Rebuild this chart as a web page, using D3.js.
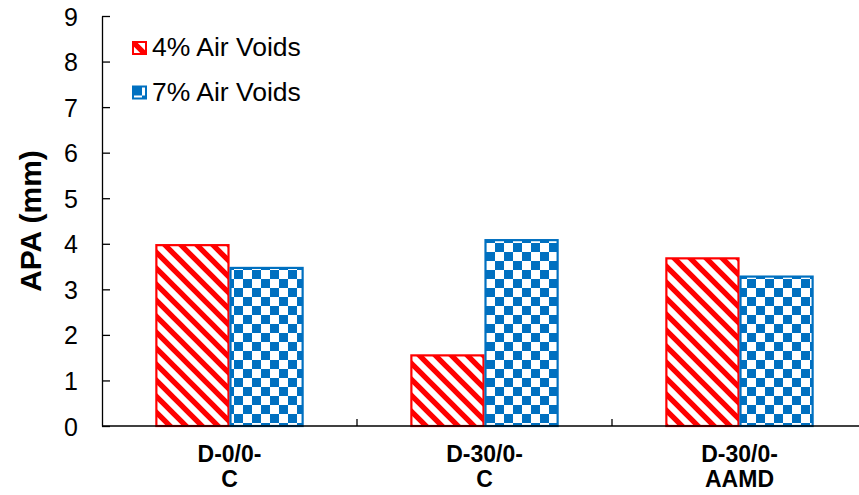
<!DOCTYPE html>
<html>
<head>
<meta charset="utf-8">
<script src="https://cdn.jsdelivr.net/npm/d3@7"></script>
<style>
body { margin: 0; background: #fff; }
text { font-family: Arial, "Liberation Sans", sans-serif; }
</style>
</head>
<body>
<svg width="859" height="495"></svg>
<script>
const categories = [["D-0/0-", "C"], ["D-30/0-", "C"], ["D-30/0-", "AAMD"]];
const seriesNames = ["4% Air Voids", "7% Air Voids"];
const voids4 = [3.97, 1.55, 3.68];
const voids7 = [3.47, 4.08, 3.28];
const yTicks = [0, 1, 2, 3, 4, 5, 6, 7, 8, 9];

const margin = { top: 16, left: 102, bottom: 69 };
const height = 495 - margin.top - margin.bottom;
const bandWidth = 255;

let svg = d3.select('svg');

// patterns
let defs = svg.append('defs');
let stripe = defs.append('pattern')
	.attr('id', 'stripes')
	.attr('patternUnits', 'userSpaceOnUse')
	.attr('width', 16).attr('height', 16);
stripe.append('rect').attr('width', 16).attr('height', 16).attr('fill', '#fff');
stripe.append('path')
	.attr('d', 'M-2,-2 L18,18 M-10,6 L10,26 M6,-10 L26,10')
	.attr('stroke', '#ff0000')
	.attr('stroke-width', 5.4);

let checker = defs.append('pattern')
	.attr('id', 'checker')
	.attr('patternUnits', 'userSpaceOnUse')
	.attr('width', 18).attr('height', 18);
checker.append('rect').attr('width', 18).attr('height', 18).attr('fill', '#fff');
checker.append('rect').attr('width', 9).attr('height', 9).attr('fill', '#0070c0');
checker.append('rect').attr('x', 9).attr('y', 9).attr('width', 9).attr('height', 9).attr('fill', '#0070c0');

const x = d3.scaleBand()
	.domain(d3.range(categories.length))
	.range([margin.left, margin.left + bandWidth * categories.length]);

const xSub = d3.scaleBand()
	.domain([0, 1])
	.range([0, bandWidth])
	.paddingOuter(0.72)
	.paddingInner(0);

const y = d3.scaleLinear()
	.domain([0, 9])
	.range([margin.top + height, margin.top]);

const fills = ['url(#stripes)', 'url(#checker)'];
const strokes = ['#ff0000', '#0070c0'];
const series = [voids4, voids7];

// bars
series.forEach(function(vals, s){
	svg.append('g').selectAll('rect')
		.data(vals)
		.enter()
		.append('rect')
		.attr('x', (d, i) => x(i) + xSub(s) + 1)
		.attr('width', xSub.bandwidth() - 2)
		.attr('y', d => y(d))
		.attr('height', d => y(0) - y(d))
		.attr('fill', fills[s])
		.attr('stroke', strokes[s])
		.attr('stroke-width', 2.2);
});

// y axis
let yAxis = svg.append('g')
	.attr('transform', 'translate(' + margin.left + ',0)')
	.call(d3.axisLeft(y).tickValues(yTicks).tickSizeInner(-8).tickSizeOuter(0).tickPadding(24));
yAxis.select('.domain').attr('stroke', '#000').attr('stroke-width', 1.3);
yAxis.selectAll('.tick line').attr('stroke', '#000').attr('stroke-width', 1.3);
yAxis.selectAll('text').attr('font-size', 25).attr('fill', '#000')
	.attr('dy', '0.36em')
	.attr('font-family', 'Arial, "Liberation Sans", sans-serif');

// x axis
let xAxis = svg.append('g')
	.attr('transform', 'translate(0,' + y(0) + ')');
xAxis.append('line')
	.attr('x1', margin.left).attr('x2', 859)
	.attr('stroke', '#000').attr('stroke-width', 1.3);
xAxis.selectAll('.sep')
	.data(d3.range(1, categories.length))
	.enter()
	.append('line')
	.attr('x1', d => x(d)).attr('x2', d => x(d))
	.attr('y1', 0).attr('y2', -7)
	.attr('stroke', '#000').attr('stroke-width', 1.3);

let labels = xAxis.selectAll('.cat')
	.data(categories)
	.enter()
	.append('text')
	.attr('text-anchor', 'middle')
	.attr('font-size', 23)
	.attr('font-weight', 'bold')
	.attr('transform', (d, i) => 'translate(' + (x(i) + bandWidth / 2) + ',0)');
labels.selectAll('tspan')
	.data(d => d)
	.enter()
	.append('tspan')
	.attr('x', 0)
	.attr('y', (d, i) => 36 + i * 25)
	.text(d => d);

// y title
svg.append('text')
	.attr('transform', 'translate(41,' + (margin.top + height / 2) + ') rotate(-90)')
	.attr('text-anchor', 'middle')
	.attr('font-size', 30)
	.attr('font-weight', 'bold')
	.text('APA (mm)');

// legend
let legend = svg.append('g').selectAll('g')
	.data(seriesNames)
	.enter()
	.append('g')
	.attr('transform', (d, i) => 'translate(133,' + (42 + i * 44.5) + ')');
legend.append('rect')
	.attr('width', 13).attr('height', 12)
	.attr('fill', (d, i) => fills[i])
	.attr('stroke', (d, i) => strokes[i])
	.attr('stroke-width', 2);
legend.append('text')
	.attr('x', 19).attr('y', 14)
	.attr('font-size', 26.5)
	.text(d => d);
</script>
</body>
</html>
